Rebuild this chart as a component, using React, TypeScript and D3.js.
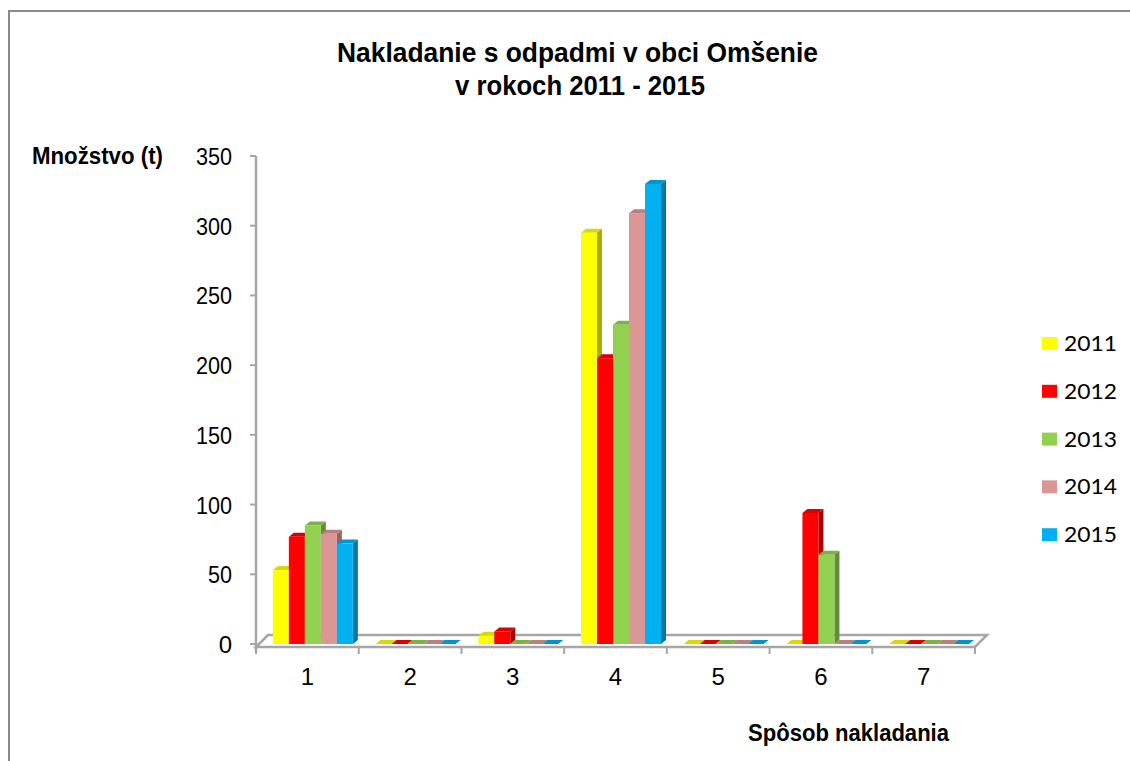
import React from "react";
import * as d3 from "d3";

const categories = ["1", "2", "3", "4", "5", "6", "7"];
const years = ["2011", "2012", "2013", "2014", "2015"];
const colors = ["#FFFF00", "#FF0000", "#92D050", "#D99694", "#00B0F0"];
const v2011 = [53, 0, 6, 295, 0, 0, 0];
const v2012 = [77, 0, 9, 205, 0, 94, 0];
const v2013 = [85, 0, 0, 229, 0, 64, 0];
const v2014 = [79, 0, 0, 309, 0, 0, 0];
const v2015 = [72, 0, 0, 330, 0, 0, 0];
const series = [v2011, v2012, v2013, v2014, v2015];
const yTicks = [0, 50, 100, 150, 200, 250, 300, 350];

const W = 1130;
const H = 761;

export default function App() {
  const x = d3.scaleBand<string>().domain(categories).range([256, 975]).paddingInner(0).paddingOuter(0);
  const y = d3.scaleLinear().domain([0, 350]).range([644, 156]);
  const groupW = 80;
  const xs = d3.scaleBand<string>().domain(years).range([0, groupW]);
  const bw = x.bandwidth();
  const bdx = 5, bdy = 4;
  const fdx = 12, fdy = 12;
  const floorY = 647;
  const base = y(0);
  const font = "'Liberation Sans', Arial, sans-serif";

  const bars: React.ReactNode[] = [];
  categories.forEach((c, ci) => {
    years.forEach((yr, si) => {
      const v = series[si][ci];
      const x0 = (x(c) as number) + (bw - groupW) / 2 + 5.5 + (xs(yr) as number);
      const w = xs.bandwidth();
      const top = y(v);
      const col = colors[si];
      const topCol = d3.color(col)!.darker(0.45).formatHex();
      const sideCol = d3.color(col)!.darker(1.1).formatHex();
      const key = `${ci}-${si}`;
      if (v > 0) {
        bars.push(
          <g key={key}>
            <polygon
              points={`${x0 + w},${top} ${x0 + w + bdx},${top - bdy} ${x0 + w + bdx},${base - bdy} ${x0 + w},${base}`}
              fill={sideCol}
            />
            <polygon
              points={`${x0},${top} ${x0 + bdx},${top - bdy} ${x0 + w + bdx},${top - bdy} ${x0 + w},${top}`}
              fill={topCol}
            />
            <rect x={x0} y={top} width={w} height={base - top} fill={col} />
          </g>
        );
      } else {
        bars.push(
          <polygon
            key={key}
            points={`${x0},${base} ${x0 + bdx},${base - bdy} ${x0 + w + bdx},${base - bdy} ${x0 + w},${base}`}
            fill={topCol}
          />
        );
      }
    });
  });

  const x0f = 256, x1f = 975;
  const gray = "#A6A6A6";

  return (
    <svg width={W} height={H} style={{ position: "absolute", left: 0, top: 0 }}>
      <rect x={0} y={0} width={W} height={H} fill="#fff" />
      <rect x={9} y={11} width={1300} height={900} fill="#fff" stroke="#8A8A8A" strokeWidth={2} />

      <text x={577.5} y={62} textAnchor="middle" fontFamily={font} fontWeight="bold" fontSize={28}
        textLength={481} lengthAdjust="spacingAndGlyphs" fill="#000">
        Nakladanie s odpadmi v obci Omšenie
      </text>
      <text x={580} y={95} textAnchor="middle" fontFamily={font} fontWeight="bold" fontSize={28}
        textLength={250} lengthAdjust="spacingAndGlyphs" fill="#000">
        v rokoch 2011 - 2015
      </text>

      <text x={32} y={164} fontFamily={font} fontWeight="bold" fontSize={24}
        textLength={131} lengthAdjust="spacingAndGlyphs" fill="#000">
        Množstvo (t)
      </text>
      <text x={748} y={741} fontFamily={font} fontWeight="bold" fontSize={24}
        textLength={201} lengthAdjust="spacingAndGlyphs" fill="#000">
        Spôsob nakladania
      </text>

      {/* floor */}
      <polygon
        points={`${x0f},${floorY} ${x0f + fdx},${floorY - fdy} ${x1f + fdx},${floorY - fdy} ${x1f},${floorY}`}
        fill="#fff" stroke={gray} strokeWidth={2.5}
      />

      {/* y axis */}
      <line x1={256} y1={y(350)} x2={256} y2={652} stroke={gray} strokeWidth={2.5} />
      {yTicks.map((t) => (
        <g key={t}>
          <line x1={250} x2={256} y1={y(t)} y2={y(t)} stroke={gray} strokeWidth={2} />
          <text x={232} y={y(t) + 9} textAnchor="end" fontFamily={font} fontSize={24} fill="#000"
            {...(String(t).length > 1 ? { textLength: 12 * String(t).length, lengthAdjust: "spacingAndGlyphs" } : {})}>
            {t}
          </text>
        </g>
      ))}

      {/* x axis ticks & labels */}
      {categories.map((c) => (
        <line key={"t" + c} x1={(x(c) as number)} x2={(x(c) as number)} y1={floorY} y2={654} stroke={gray} strokeWidth={2} />
      ))}
      <line x1={x1f} x2={x1f} y1={floorY} y2={654} stroke={gray} strokeWidth={2} />
      {categories.map((c) => (
        <text key={"l" + c} x={(x(c) as number) + bw / 2} y={685} textAnchor="middle" fontFamily={font} fontSize={24} fill="#000">
          {c}
        </text>
      ))}

      {bars}

      {/* legend */}
      {years.map((yr, i) => {
        const by = 351 + i * 47.8;
        return (
          <g key={"lg" + yr}>
            <rect x={1042} y={by - 14} width={15} height={13} fill={colors[i]} />
            <text x={1064} y={by} fontFamily="Lato, 'Open Sans', sans-serif" fontSize={22}
              textLength={53} lengthAdjust="spacingAndGlyphs" fill="#000">
              {yr}
            </text>
          </g>
        );
      })}
    </svg>
  );
}
